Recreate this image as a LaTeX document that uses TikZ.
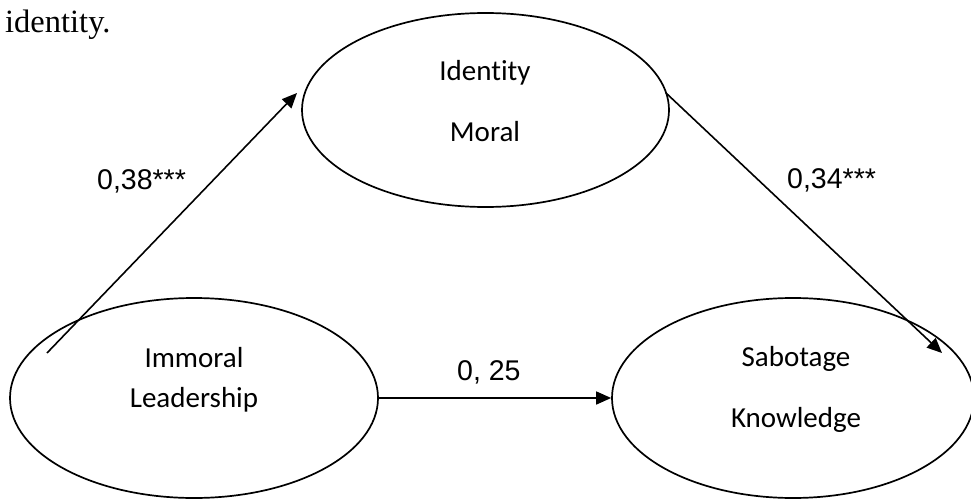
\documentclass[tikz,border=0pt]{standalone}
\usepackage{fontspec}
\setmainfont{Liberation Serif}
\newfontfamily\calfont[Ligatures=NoCommon]{Carlito}
\newfontfamily\arialfont{Liberation Sans}
\usetikzlibrary{shapes.geometric,arrows.meta}
\begin{document}
\begin{tikzpicture}[x=1pt,y=-1pt,
  latent/.style={draw,ellipse,line width=1.7pt,inner sep=0pt},
  vartext/.style={anchor=base,inner sep=0pt,font=\calfont\fontsize{29}{30}\selectfont},
  coef/.style={anchor=base west,inner sep=0pt,font=\arialfont\fontsize{28.5}{30}\selectfont},
  arrowline/.style={line width=1.6pt,-{Triangle[length=15pt,width=13pt]}}
]
\clip (0,0) rectangle (971,500);
% caption fragment
\node[anchor=base west,inner sep=0pt,font=\fontsize{32.5}{34}\selectfont] (cap) at (5,33) {identity.};
% latent variables
\node[latent,minimum width=367pt,minimum height=194pt] (med) at (485.5,110) {};
\node[latent,minimum width=368pt,minimum height=200pt] (ant) at (194,398) {};
\node[latent,minimum width=362pt,minimum height=200pt] (out) at (793,398) {};
% texts
\node[vartext] (medA) at (485,81) {Identity};
\node[vartext] (medB) at (485,141) {Moral};
\node[vartext] (antA) at (194,367) {Immoral};
\node[vartext] (antB) at (194,407) {Leadership};
\node[vartext] (outA) at (796,366) {Sabotage};
\node[vartext] (outB) at (796,427) {Knowledge};
% connector ends
\coordinate (aStart) at (47,353);
\coordinate (aEnd) at (297,93);
\coordinate (bStart) at (666,93);
\coordinate (bEnd) at (942,353);
% paths
\draw[arrowline] (aStart) -- (aEnd);
\draw[arrowline] (bStart) -- (bEnd);
\draw[arrowline] (ant.east) -- (out.west);
% coefficients
\node[coef] (c1) at (97,189) {0,38***};
\node[coef] (c2) at (787,188) {0,34***};
\node[coef] (c3) at (457,380) {0, 25};
\end{tikzpicture}
\end{document}
